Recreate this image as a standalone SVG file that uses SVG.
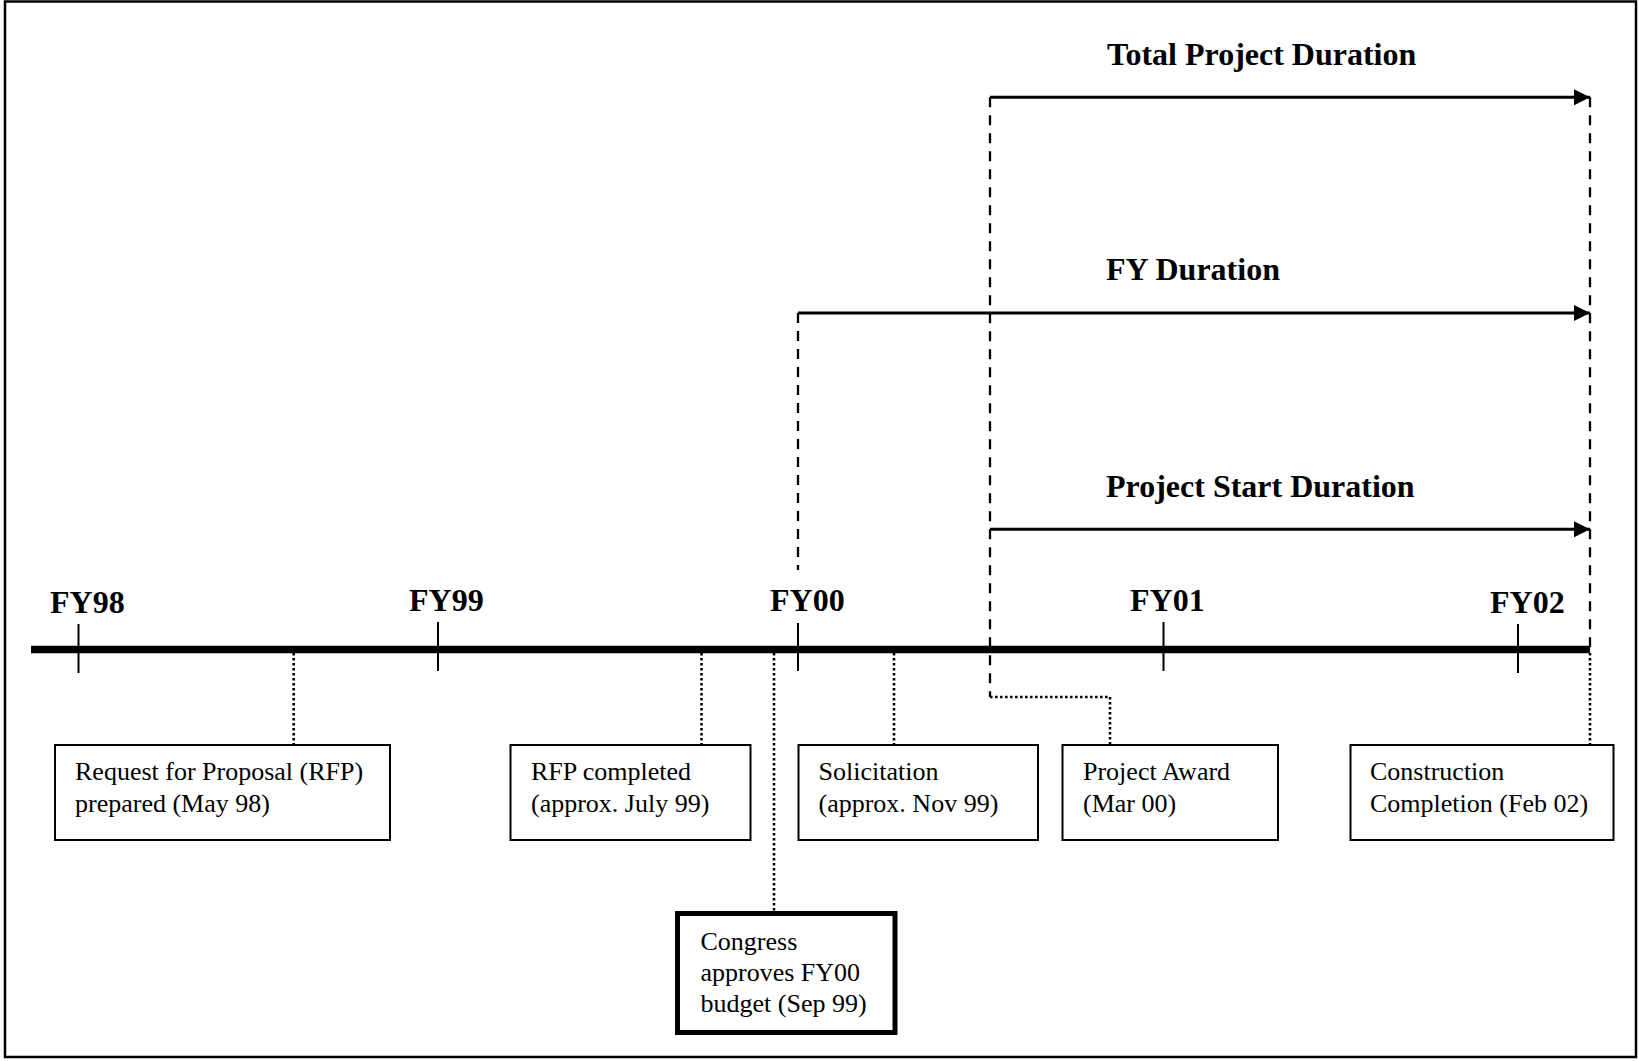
<svg xmlns="http://www.w3.org/2000/svg" width="1639" height="1061" viewBox="0 0 1639 1061">
  <defs>
    <marker id="arrowhead" markerWidth="16" markerHeight="16" refX="16" refY="8" orient="auto" markerUnits="userSpaceOnUse">
      <path d="M0,0 L16,8 L0,16 Z" fill="#000"/>
    </marker>
  </defs>
  <style>
    .frame { fill: #fff; stroke: #000; stroke-width: 2.5; }
    .box { fill: #fff; stroke: #000; stroke-width: 2; }
    .box-strong { fill: #fff; stroke: #000; stroke-width: 5; }
    .label { font-family: "Liberation Serif", "Times New Roman", serif; font-size: 26px; fill: #000; }
    .heading { font-family: "Liberation Serif", "Times New Roman", serif; font-size: 32px; font-weight: bold; fill: #000; }
    .axis { stroke: #000; stroke-width: 7.5; fill: none; }
    .tick { stroke: #000; stroke-width: 2; fill: none; }
    .span { stroke: #000; stroke-width: 3; fill: none; }
    .dashed { stroke: #000; stroke-width: 2.3; fill: none; stroke-dasharray: 10 8; }
    .dotted { stroke: #000; stroke-width: 2.6; fill: none; stroke-dasharray: 2.6 2.4; }
  </style>

  <!-- outer frame -->
  <rect class="frame" x="5" y="1.5" width="1631" height="1055.5"/>

  <!-- timeline axis with fiscal-year ticks -->
  <g id="timeline">
    <line class="axis" x1="31" y1="649.5" x2="1590" y2="649.5"/>
    <line class="tick" x1="78.5" y1="624" x2="78.5" y2="673"/>
    <line class="tick" x1="438" y1="622" x2="438" y2="671"/>
    <line class="tick" x1="798" y1="623" x2="798" y2="671"/>
    <line class="tick" x1="1163.5" y1="622" x2="1163.5" y2="671"/>
    <line class="tick" x1="1518" y1="624" x2="1518" y2="673"/>
    <text class="heading" x="50" y="613">FY98</text>
    <text class="heading" x="409" y="611">FY99</text>
    <text class="heading" x="770" y="611">FY00</text>
    <text class="heading" x="1130" y="611">FY01</text>
    <text class="heading" x="1490" y="613">FY02</text>
  </g>

  <!-- connectors: duration spans, guides and leader lines -->
  <g id="connectors">
    <line class="span" x1="990" y1="97.3" x2="1590" y2="97.3" marker-end="url(#arrowhead)"/>
    <line class="span" x1="798" y1="313" x2="1590" y2="313" marker-end="url(#arrowhead)"/>
    <line class="span" x1="990" y1="529.3" x2="1590" y2="529.3" marker-end="url(#arrowhead)"/>

    <line class="dashed" x1="798" y1="313" x2="798" y2="570"/>
    <line class="dashed" x1="990" y1="97.3" x2="990" y2="697"/>
    <line class="dashed" x1="1590" y1="97.3" x2="1590" y2="649"/>

    <line class="dotted" x1="293.7" y1="653" x2="293.7" y2="744"/>
    <line class="dotted" x1="701.5" y1="653" x2="701.5" y2="744"/>
    <line class="dotted" x1="774" y1="653" x2="774" y2="911"/>
    <line class="dotted" x1="894" y1="653" x2="894" y2="744"/>
    <polyline class="dotted" points="990,697 1110,697 1110,744"/>
    <line class="dotted" x1="1590" y1="653" x2="1590" y2="744"/>
  </g>

  <!-- duration headings -->
  <g id="total-duration">
    <text class="heading" x="1107" y="65">Total Project Duration</text>
  </g>
  <g id="fy-duration">
    <text class="heading" x="1106" y="280">FY Duration</text>
  </g>
  <g id="start-duration">
    <text class="heading" x="1106" y="497">Project Start Duration</text>
  </g>

  <!-- milestone boxes -->
  <g id="rfp-prepared">
    <rect class="box" x="55" y="745" width="335" height="95"/>
    <text class="label" x="75" y="780">Request for Proposal (RFP)</text>
    <text class="label" x="75" y="812">prepared (May 98)</text>
  </g>
  <g id="rfp-completed">
    <rect class="box" x="510.5" y="745" width="240" height="95"/>
    <text class="label" x="531" y="780">RFP completed</text>
    <text class="label" x="531" y="812">(approx. July 99)</text>
  </g>
  <g id="solicitation">
    <rect class="box" x="798.5" y="745" width="239.5" height="95"/>
    <text class="label" x="818.5" y="780">Solicitation</text>
    <text class="label" x="818.5" y="812">(approx. Nov 99)</text>
  </g>
  <g id="project-award">
    <rect class="box" x="1062.5" y="745" width="215.5" height="95"/>
    <text class="label" x="1083" y="780">Project Award</text>
    <text class="label" x="1083" y="812">(Mar 00)</text>
  </g>
  <g id="construction-completion">
    <rect class="box" x="1350.5" y="745" width="263" height="95"/>
    <text class="label" x="1370" y="780">Construction</text>
    <text class="label" x="1370" y="812">Completion (Feb 02)</text>
  </g>
  <g id="congress-approval">
    <rect class="box-strong" x="677.5" y="913.5" width="217.5" height="119"/>
    <text class="label" x="700.5" y="950">Congress</text>
    <text class="label" x="700.5" y="981">approves FY00</text>
    <text class="label" x="700.5" y="1012">budget (Sep 99)</text>
  </g>
</svg>
